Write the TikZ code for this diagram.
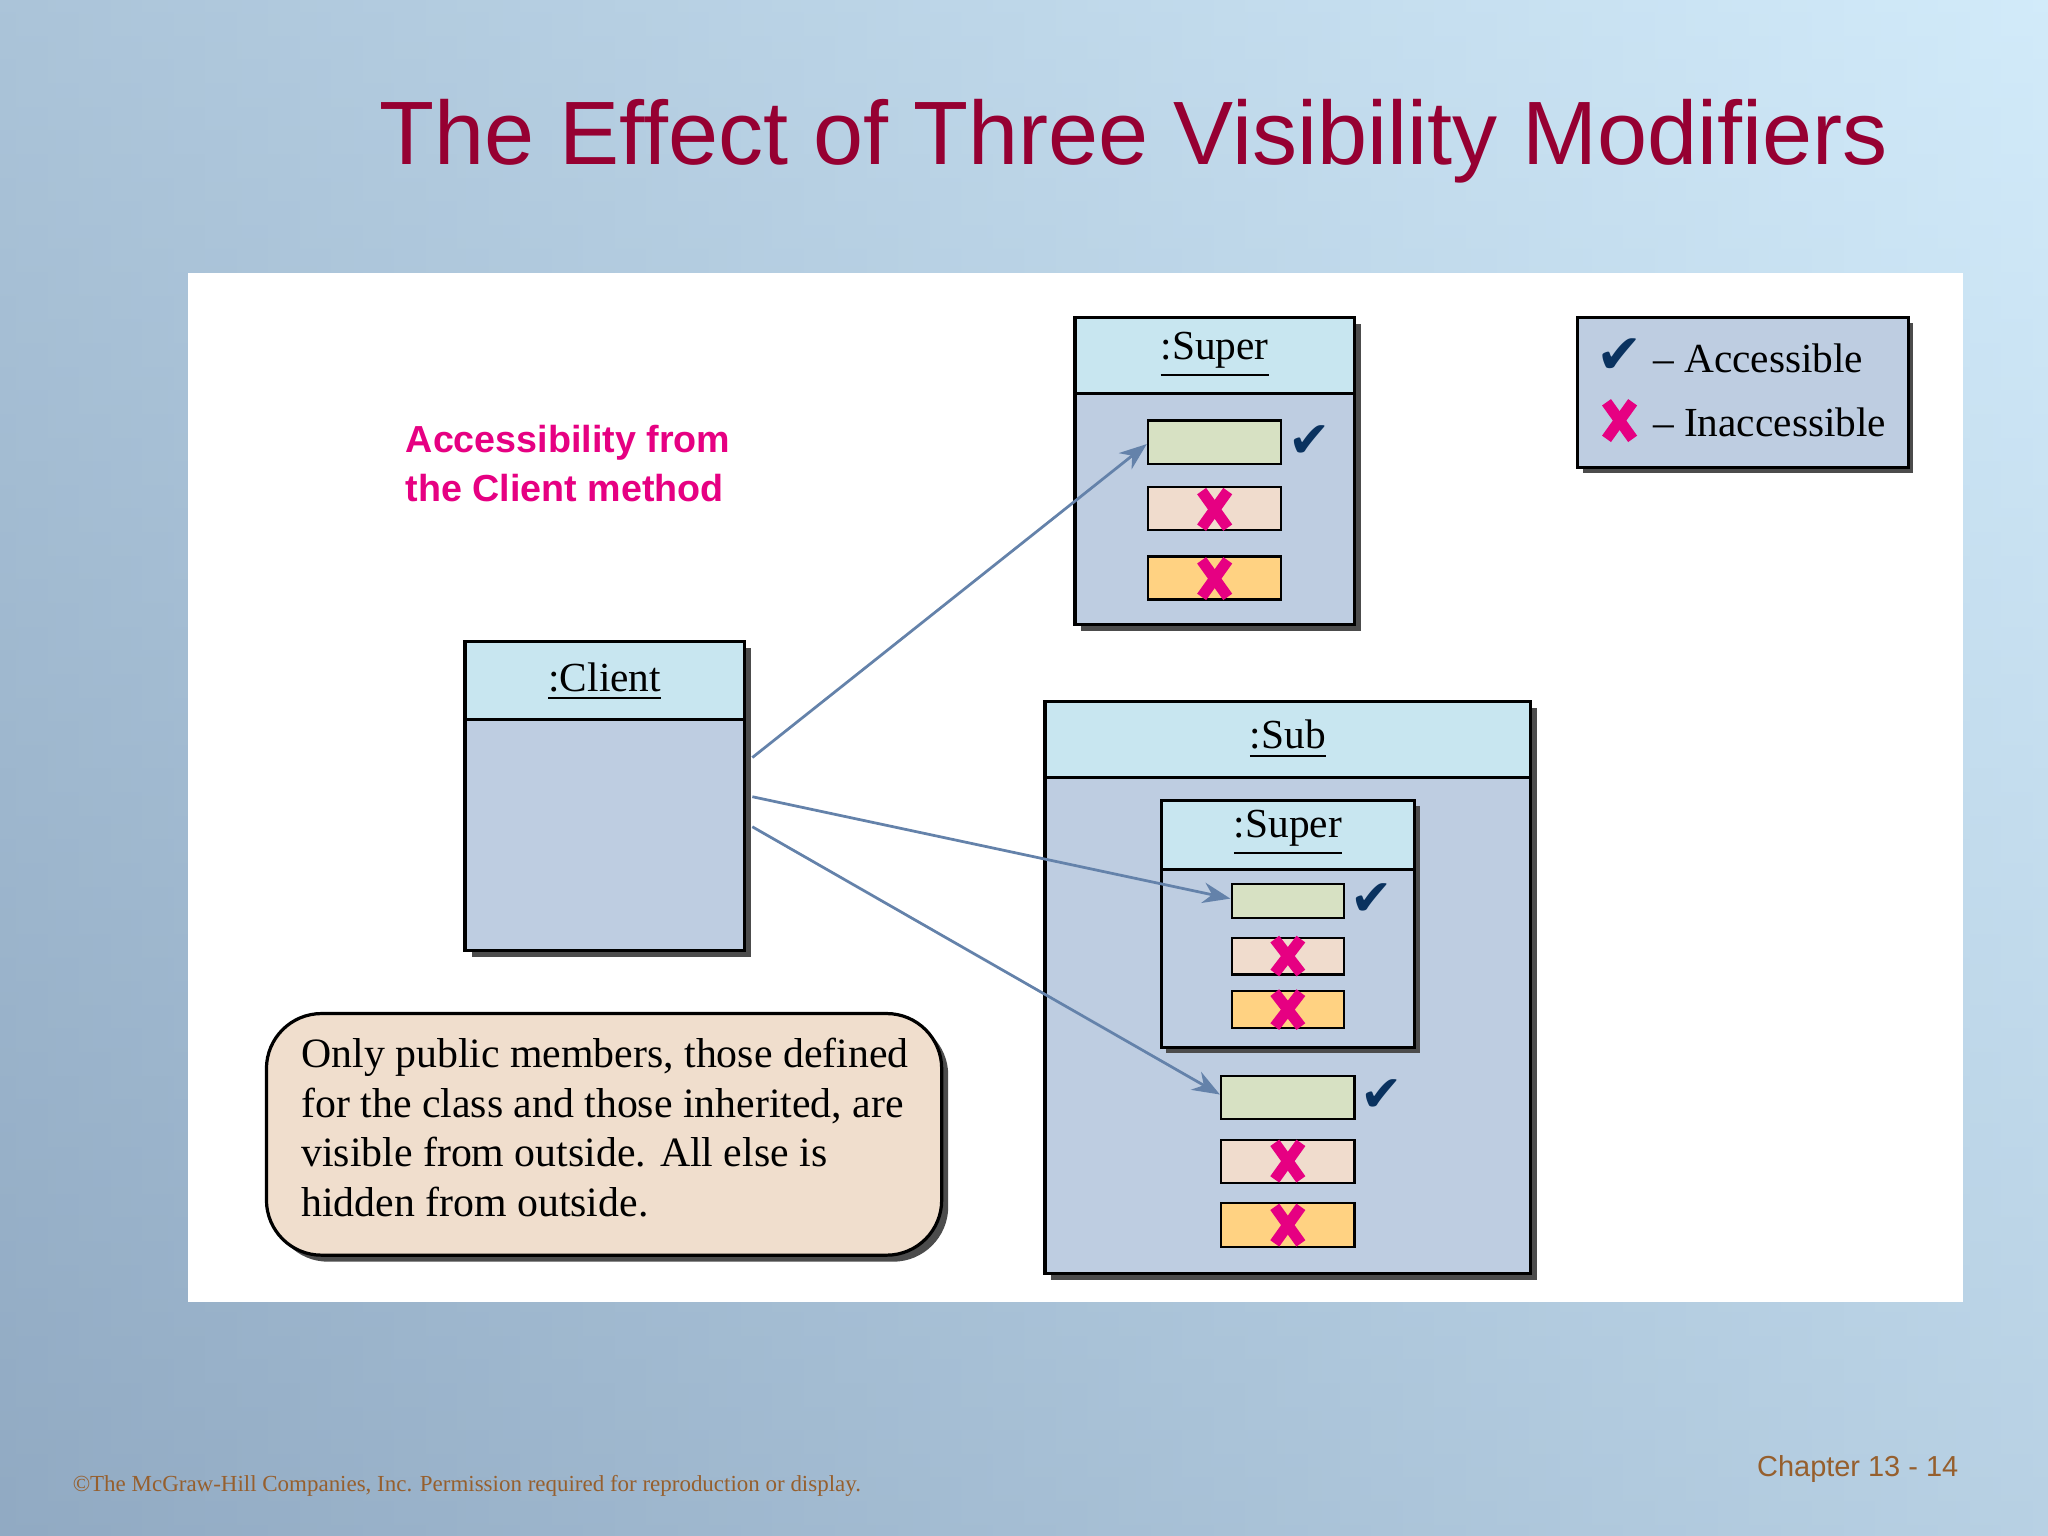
\documentclass[tikz,border=0pt]{standalone}
\usepackage{fontspec}
\setmainfont{Liberation Serif}
\newfontfamily\sans{Liberation Sans}
\newfontfamily\djv{DejaVu Sans}
\usetikzlibrary{arrows.meta}
\definecolor{bgA}{RGB}{145,170,195}
\definecolor{bgB}{RGB}{210,235,250}
\definecolor{ttl}{RGB}{150,0,50}
\definecolor{hdr}{RGB}{200,230,240}
\definecolor{bdy}{RGB}{190,205,225}
\definecolor{mgreen}{RGB}{215,225,195}
\definecolor{mpink}{RGB}{240,220,205}
\definecolor{morange}{RGB}{255,210,130}
\definecolor{navy}{RGB}{10,50,95}
\definecolor{mag}{RGB}{230,0,130}
\definecolor{arr}{RGB}{100,130,170}
\definecolor{note}{RGB}{240,222,205}
\definecolor{foot}{RGB}{150,95,45}
\begin{document}
\begin{tikzpicture}[x=0.01cm,y=-0.01cm,
  box/.style={draw=black,line width=0.7pt},
  shad/.style={fill=black!70,draw=none},
  mem/.style={draw=black,line width=0.5pt},
  chk/.style={text=navy,font=\djv\fontsize{11}{11}\selectfont\bfseries,inner sep=0},
  crs/.style={draw=mag,line width=2.4pt},
  conn/.style={draw=arr,line width=0.6pt,-{Stealth[length=6pt,width=4.5pt]}},
  lbl/.style={font=\fontsize{9}{11}\selectfont,inner sep=0}]
\useasboundingbox (0,0) rectangle (1568,1176);
\shade[top color=bgB,bottom color=bgA] (0,0) rectangle (1568,1176);
\shade[left color=bgA,right color=bgB,opacity=0.6] (0,0) rectangle (1568,1176);
\node[text=ttl,font=\sans\fontsize{19.6}{23}\selectfont] (title) at (868,108) {The Effect of Three Visibility Modifiers};
\fill[white] (144,209) rectangle (1503,997);
\newcommand\mycross[2]{\draw[crs] (#1-10,#2-14) -- (#1+10,#2+14); \draw[crs] (#1-10,#2+14) -- (#1+10,#2-14);}
\newcommand\smcross[2]{\draw[crs] (#1-10,#2-13) -- (#1+10,#2+13); \draw[crs] (#1-10,#2+13) -- (#1+10,#2-13);}
% Super
\fill[shad] (828,248) rectangle (1042,483);
\draw[box,fill=bdy] (823,243) rectangle (1037,478);
\draw[box,fill=hdr] (823,243) rectangle (1037,301);
\node[lbl] (suph) at (930,272) {\underline{:Super}};
\draw[mem,fill=mgreen] (879,322) rectangle (981,355);
\draw[mem,fill=mpink] (879,373) rectangle (981,406);
\draw[mem,fill=morange] (879,426) rectangle (981,459);
\node[chk] at (1003,338) {✔};
\mycross{930}{390}\mycross{930}{443}
\coordinate (s1t) at (878,340);
% Client
\fill[shad] (361,496) rectangle (575,733);
\draw[box,fill=bdy] (356,491) rectangle (570,728);
\draw[box,fill=hdr] (356,491) rectangle (570,551);
\node[lbl] (clh) at (463,522) {\underline{:Client}};
% Sub
\fill[shad] (805,542) rectangle (1177,980);
\draw[box,fill=bdy] (800,537) rectangle (1172,975);
\draw[box,fill=hdr] (800,537) rectangle (1172,595);
\node[lbl] (subh) at (986,566) {\underline{:Sub}};
\fill[shad] (893,617) rectangle (1087,806);
\draw[box,fill=bdy] (889,613) rectangle (1083,802);
\draw[box,fill=hdr] (889,613) rectangle (1083,666);
\node[lbl] (isuph) at (986,638) {\underline{:Super}};
\draw[mem,fill=mgreen] (943,677) rectangle (1029,703);
\draw[mem,fill=mpink] (943,718) rectangle (1029,746);
\draw[mem,fill=morange] (943,759) rectangle (1029,787);
\node[chk] at (1050,689) {✔};
\smcross{986}{732}\smcross{986}{773}
\draw[mem,fill=mgreen] (935,824) rectangle (1037,857);
\draw[mem,fill=mpink] (935,873) rectangle (1037,906);
\draw[mem,fill=morange] (935,921) rectangle (1037,955);
\node[chk] at (1058,839) {✔};
\mycross{986}{889}\mycross{986}{938}
% arrows
\coordinate (c1) at (576,580); \coordinate (c2) at (576,610); \coordinate (c3) at (576,633);
\coordinate (t2) at (942,688); \coordinate (t3) at (934,838);
\draw[conn] (c1) -- (s1t);
\draw[conn] (c2) -- (t2);
\draw[conn] (c3) -- (t3);
% legend
\fill[shad] (1212,247) rectangle (1465,362);
\draw[box,fill=bdy] (1208,243) rectangle (1461,358);
\node[chk,font=\djv\fontsize{12}{12}\selectfont\bfseries] at (1240,273) {✔};
\mycross{1240}{322}
\node[lbl,anchor=west] (la) at (1265,274) {– Accessible};
\node[lbl,anchor=west] (li) at (1265,323) {– Inaccessible};
% pink text
\node[text=mag,font=\sans\fontsize{8.2}{10.8}\selectfont\bfseries,align=left,anchor=west,inner sep=0] (acc) at (310,355) {Accessibility from\\the Client method};
% note
\fill[shad,rounded corners=12] (209,781) rectangle (726,966);
\draw[box,fill=note,rounded corners=12] (204,776) rectangle (721,961);
\node[font=\fontsize{9.1}{10.8}\selectfont,align=left,anchor=north west,inner sep=0] (nt) at (230,794) {Only public members, those defined\\for the class and those inherited, are\\visible from outside. All else is\\hidden from outside.};
% footer
\node[text=foot,font=\fontsize{5}{6}\selectfont,anchor=west,inner sep=0] (cp) at (55,1138) {©The McGraw-Hill Companies, Inc. Permission required for reproduction or display.};
\node[text=foot,font=\sans\fontsize{6.3}{7}\selectfont,anchor=east,inner sep=0] (ch) at (1500,1125) {Chapter 13 - 14};
\end{tikzpicture}
\end{document}
